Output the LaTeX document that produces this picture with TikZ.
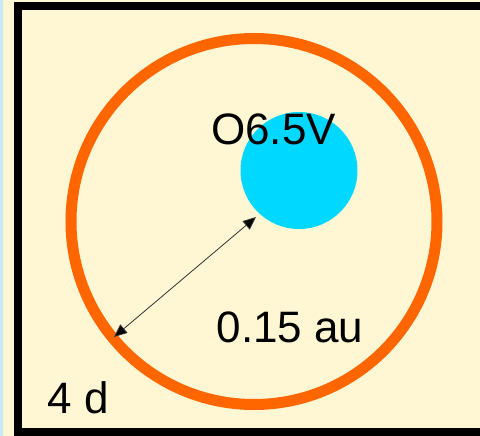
\documentclass[tikz,border=0pt]{standalone}
\usepackage{fontspec}
\setmainfont{Liberation Sans}
\usetikzlibrary{arrows.meta}
\definecolor{bgyellow}{HTML}{FFF7D4}
\definecolor{stripblue}{HTML}{CCE8FF}
\definecolor{orbitorange}{HTML}{FF6600}
\definecolor{starcyan}{HTML}{00D8FF}
\definecolor{arrowgray}{HTML}{333333}
\tikzset{
  lbl/.style={font=\fontsize{44}{44}\selectfont, text=black, inner sep=0pt, anchor=base},
  orbit/.style={circle, draw=orbitorange, line width=11pt, minimum size=366pt, inner sep=0pt},
  star/.style={circle, fill=starcyan, minimum size=117pt, inner sep=0pt},
  dist/.style={draw=arrowgray, line width=0.8pt, {Triangle[length=13pt,width=11pt,fill=black]}-{Triangle[length=13pt,width=11pt,fill=black]}}
}
\begin{document}
\begin{tikzpicture}[x=1pt,y=-1pt]
\useasboundingbox (0,0) rectangle (480,436);
\fill[bgyellow] (0,0) rectangle (480,436);
\fill[stripblue] (0,0) rectangle (3,436);
\draw[black, line width=8pt] (18,6) rectangle (520,432);
\node[orbit] (orbit) at (254,221.5) {};
\node[star] (star) at (299,170.5) {};
\node[lbl] (name) at (273.5,144) {O6.5V};
\node[lbl] (au) at (290,342) {0.15 au};
\node[lbl] (period) at (78.5,413) {4 d};
\coordinate (inner) at (114,337);
\coordinate (outer) at (256,217);
\draw[dist] (inner) -- (outer);
\end{tikzpicture}
\end{document}
